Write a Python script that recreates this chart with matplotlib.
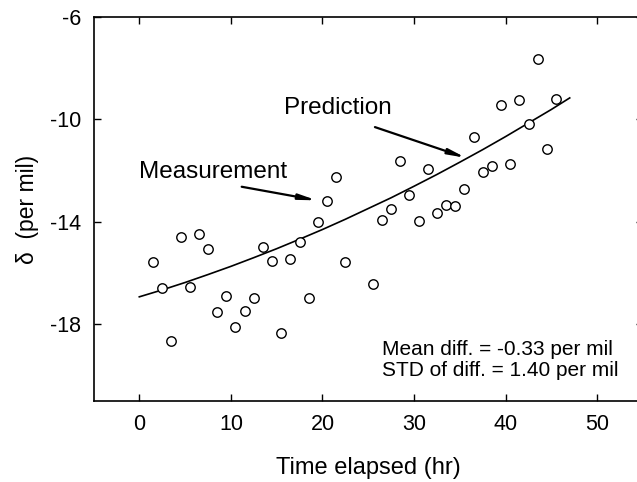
import matplotlib
matplotlib.use("Agg")
import matplotlib.pyplot as plt

plt.rcParams['font.family'] = ['Liberation Sans', 'DejaVu Sans']
plt.rcParams['axes.unicode_minus'] = False

# Measurements
time_hr = [1.5, 2.5, 3.5, 4.5, 5.5, 6.5, 7.5, 8.5, 9.5, 10.5, 11.5, 12.5, 13.5, 14.5,
           15.5, 16.5, 17.5, 18.5, 19.5, 20.5, 21.5, 22.5, 25.5, 26.5, 27.5, 28.5,
           29.5, 30.5, 31.5, 32.5, 33.5, 34.5, 35.5, 36.5, 37.5, 38.5, 39.5, 40.5,
           41.5, 42.5, 43.5, 44.5, 45.5]
delta = [-15.57, -16.58, -18.66, -14.60, -16.55, -14.47, -15.08, -17.52, -16.89, -18.10,
         -17.48, -16.97, -14.99, -15.54, -18.35, -15.44, -14.80, -16.97, -14.00, -13.19,
         -12.25, -15.57, -16.43, -13.93, -13.48, -11.62, -12.95, -13.98, -11.93, -13.67,
         -13.35, -13.40, -12.70, -10.70, -12.05, -11.81, -9.45, -11.73, -9.25, -10.16,
         -7.64, -11.15, -9.21]

# Prediction curve
pred_time = [0, 2.5, 5, 7.5, 10, 12.5, 15, 17.5, 20, 22.5, 25, 27.5, 30, 32.5, 35,
             37.5, 40, 42.5, 45, 47]
pred_delta = [-16.93, -16.66, -16.37, -16.06, -15.74, -15.40, -15.05, -14.68, -14.30,
              -13.90, -13.48, -13.06, -12.61, -12.15, -11.67, -11.18, -10.67, -10.14,
              -9.61, -9.16]

xticks = [0, 10, 20, 30, 40, 50]
yticks = [-6, -10, -14, -18]

fig = plt.figure(figsize=(6.37, 4.82), dpi=100)
ax = fig.add_axes([0.1468, 0.168, 0.8626, 0.7967])

ax.plot(pred_time, pred_delta, color='black', lw=1.2, zorder=2)
ax.plot(time_hr, delta, 'o', ms=6.8, mfc='white', mec='black', mew=1.0, zorder=3)

ax.set_xlim(-5, 55)
ax.set_ylim(-21, -6)
ax.set_xticks(xticks)
ax.set_yticks(yticks)
ax.tick_params(direction='in', length=5, width=1, top=True, right=True,
               labelsize=15.5, pad=9)
for s in ax.spines.values():
    s.set_linewidth(1.2)

ax.set_xlabel('Time elapsed (hr)', fontsize=17, labelpad=16)
ax.set_ylabel('δ  (per mil)', fontsize=16.5, labelpad=8)

ax.text(0.0, -12.07, 'Measurement', fontsize=17.5, va='center', ha='left')
ax.text(15.8, -9.56, 'Prediction', fontsize=17.5, va='center', ha='left')

ax.annotate('', xy=(19.37, -13.16), xytext=(11.18, -12.63),
            arrowprops=dict(arrowstyle='-|>,head_length=1.0,head_width=0.16',
                            color='black', lw=1.6, shrinkA=0, shrinkB=0))
ax.annotate('', xy=(35.67, -11.50), xytext=(25.73, -10.30),
            arrowprops=dict(arrowstyle='-|>,head_length=1.0,head_width=0.16',
                            color='black', lw=1.6, shrinkA=0, shrinkB=0))

ax.text(26.5, -19.4, 'Mean diff. = -0.33 per mil\nSTD of diff. = 1.40 per mil',
        fontsize=15.0, va='center', ha='left', linespacing=1.15)

fig.savefig('out.png', dpi=100)
